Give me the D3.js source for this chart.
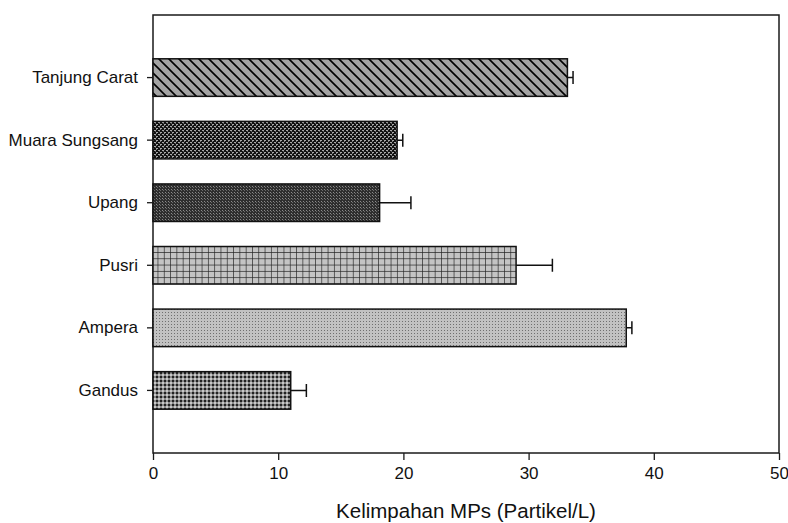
<!DOCTYPE html>
<html>
<head>
<meta charset="utf-8">
<script src="https://cdn.jsdelivr.net/npm/d3@7"></script>
<style>
  html, body { margin: 0; padding: 0; background: #fff; }
  svg { display: block; }
</style>
</head>
<body>
<svg id="chart" width="788" height="523"></svg>
<script>
const categories = ["Tanjung Carat", "Muara Sungsang", "Upang", "Pusri", "Ampera", "Gandus"];
const values = [33.1, 19.5, 18.1, 29.0, 37.8, 11.0];
const errors = [0.45, 0.45, 2.5, 2.9, 0.45, 1.25];
const xTicks = [0, 10, 20, 30, 40, 50];
const patternIds = ["pDiag", "pMuara", "pUpang", "pGrid", "pAmpera", "pGandus"];

const svg = d3.select("#chart");
const margin = { left: 153, right: 9, top: 15, bottom: 70 };
const W = 788, H = 523;
const x0 = margin.left, x1 = W - margin.right, y0 = margin.top, y1 = H - margin.bottom;
const FONT = "Liberation Sans, Arial, sans-serif";

const x = d3.scaleLinear().domain([0, 50]).range([x0, x1]);
const y = d3.scaleBand().domain(categories).range([y0, y1]).paddingInner(0.4).paddingOuter(0.7);

// Patterns
const defs = svg.append("defs");
{
  const p = defs.append("pattern").attr("id", "pDiag").attr("patternUnits", "userSpaceOnUse")
    .attr("width", 10).attr("height", 10);
  p.append("rect").attr("width", 10).attr("height", 10).attr("fill", "#a3a3a3");
  p.append("path").attr("d", "M-2,-2 L12,12 M-2,8 L2,12 M8,-2 L12,2")
    .attr("stroke", "#000").attr("stroke-width", 1.6);
}
{
  const p = defs.append("pattern").attr("id", "pMuara").attr("patternUnits", "userSpaceOnUse")
    .attr("width", 4).attr("height", 4);
  p.append("rect").attr("width", 4).attr("height", 4).attr("fill", "#111");
  p.append("rect").attr("x", 0).attr("y", 0).attr("width", 2).attr("height", 1).attr("fill", "#a8a8a8");
  p.append("rect").attr("x", 2).attr("y", 2).attr("width", 2).attr("height", 1).attr("fill", "#a8a8a8");
  p.append("rect").attr("x", 0).attr("y", 1).attr("width", 1).attr("height", 1).attr("fill", "#777");
  p.append("rect").attr("x", 3).attr("y", 3).attr("width", 1).attr("height", 1).attr("fill", "#555");
}
{
  const p = defs.append("pattern").attr("id", "pUpang").attr("patternUnits", "userSpaceOnUse")
    .attr("width", 3).attr("height", 3);
  p.append("rect").attr("width", 3).attr("height", 3).attr("fill", "#2e2e2e");
  p.append("rect").attr("x", 0).attr("y", 0).attr("width", 1).attr("height", 1).attr("fill", "#8a8a8a");
  p.append("rect").attr("x", 1).attr("y", 1).attr("width", 1).attr("height", 1).attr("fill", "#6a6a6a");
}
{
  const s = 6.3;
  const p = defs.append("pattern").attr("id", "pGrid").attr("patternUnits", "userSpaceOnUse")
    .attr("width", s).attr("height", s);
  p.append("rect").attr("width", s).attr("height", s).attr("fill", "#c4c4c4");
  p.append("path").attr("d", `M0,0 H${s} M0,0 V${s}`).attr("stroke", "#222").attr("stroke-width", 1.3);
}
{
  const p = defs.append("pattern").attr("id", "pAmpera").attr("patternUnits", "userSpaceOnUse")
    .attr("width", 3).attr("height", 3);
  p.append("rect").attr("width", 3).attr("height", 3).attr("fill", "#c2c2c2");
  p.append("rect").attr("x", 0).attr("y", 0).attr("width", 1).attr("height", 1).attr("fill", "#707070");
}
{
  const p = defs.append("pattern").attr("id", "pGandus").attr("patternUnits", "userSpaceOnUse")
    .attr("width", 4).attr("height", 4);
  p.append("rect").attr("width", 4).attr("height", 4).attr("fill", "#8a8a8a");
  p.append("rect").attr("x", 0).attr("y", 0).attr("width", 2).attr("height", 2).attr("fill", "#222");
  p.append("rect").attr("x", 2).attr("y", 2).attr("width", 2).attr("height", 2).attr("fill", "#c8c8c8");
}

// frame
svg.append("rect").attr("x", x0).attr("y", y0).attr("width", x1 - x0).attr("height", y1 - y0)
  .attr("fill", "none").attr("stroke", "#1a1a1a").attr("stroke-width", 1.5);

// bars
const g = svg.append("g");
g.selectAll("rect.bar").data(categories).join("rect")
  .attr("class", "bar")
  .attr("x", x(0))
  .attr("y", d => y(d))
  .attr("width", (d, i) => x(values[i]) - x(0))
  .attr("height", y.bandwidth())
  .attr("fill", (d, i) => `url(#${patternIds[i]})`)
  .attr("stroke", "#111").attr("stroke-width", 1.5);

// error bars
const capH = 13;
g.selectAll("path.err").data(categories).join("path")
  .attr("class", "err")
  .attr("d", (d, i) => {
    const cy = y(d) + y.bandwidth() / 2;
    const xa = x(values[i]), xb = x(values[i] + errors[i]);
    return `M${xa},${cy} H${xb} M${xb},${cy - capH / 2} V${cy + capH / 2}`;
  })
  .attr("fill", "none").attr("stroke", "#111").attr("stroke-width", 1.5);

// axes
const xAxis = d3.axisBottom(x).tickValues(xTicks).tickSize(7).tickPadding(7).tickFormat(d3.format("d"));
const gx = svg.append("g").attr("transform", `translate(0,${y1})`).call(xAxis);
gx.select(".domain").remove();
gx.selectAll("line").attr("stroke", "#1a1a1a").attr("stroke-width", 1.3);
gx.selectAll("text").attr("font-family", FONT).attr("font-size", 17).attr("fill", "#111");

const yAxis = d3.axisLeft(y).tickSize(6).tickPadding(9);
const gy = svg.append("g").attr("transform", `translate(${x0},0)`).call(yAxis);
gy.select(".domain").remove();
gy.selectAll("line").attr("stroke", "#1a1a1a").attr("stroke-width", 1.3);
gy.selectAll("text").attr("font-family", FONT).attr("font-size", 17).attr("fill", "#111");

// axis title
svg.append("text").attr("x", (x0 + x1) / 2).attr("y", 518).attr("text-anchor", "middle")
  .attr("font-family", FONT).attr("font-size", 20.5).attr("fill", "#111")
  .text("Kelimpahan MPs (Partikel/L)");
</script>
</body>
</html>
